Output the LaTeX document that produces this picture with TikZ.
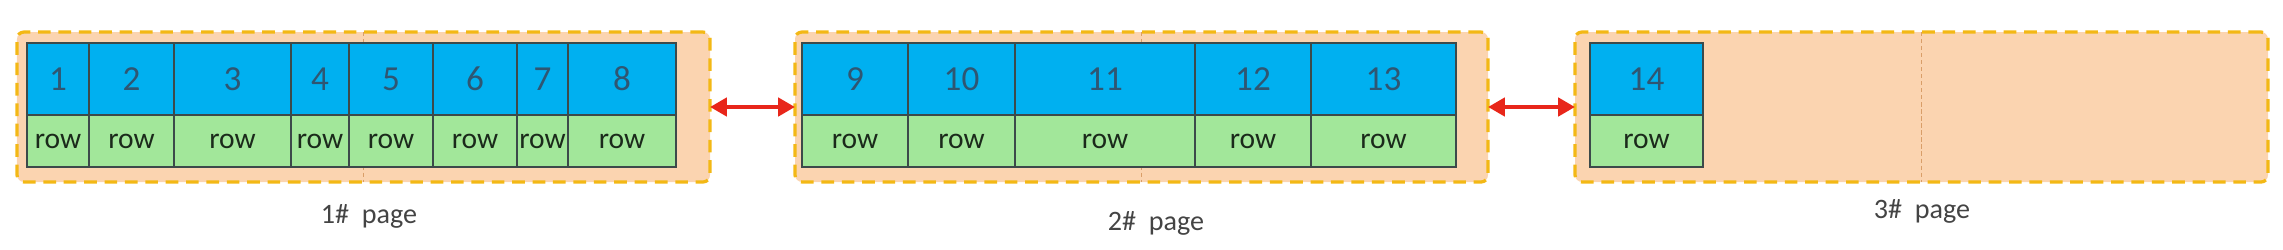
\documentclass[tikz,border=0pt]{standalone}
\usepackage{fontspec}
\setmainfont{Carlito}
\usetikzlibrary{positioning,arrows.meta}

\definecolor{pagefill}{HTML}{FBD4B0}
\definecolor{pageline}{HTML}{F3B815}
\definecolor{midbrown}{HTML}{D99E68}
\definecolor{keyblue}{HTML}{00B0F0}
\definecolor{rowgreen}{HTML}{A2E79A}
\definecolor{cellline}{HTML}{3C4A4A}
\definecolor{keytext}{HTML}{2F5672}
\definecolor{rowtext}{HTML}{1B2A1B}
\definecolor{labelgray}{HTML}{444444}
\definecolor{linkred}{HTML}{E8261A}

\tikzset{
    pagebox/.style={draw=pageline, fill=pagefill, line width=2.3pt, dash pattern=on 9pt off 5.5pt,
        rounded corners=5pt, minimum width=17.325cm, minimum height=3.75cm, inner sep=0pt, outer sep=0pt},
    midline/.style={draw=midbrown, line width=0.7pt, dash pattern=on 3pt off 2pt},
    keycell/.style={draw=cellline, fill=keyblue, text=keytext, line width=0.8pt, font=\fontsize{25}{25}\selectfont,
        minimum width=#1, minimum height=1.8cm, inner sep=0pt, outer sep=0pt},
    rowcell/.style={draw=cellline, fill=rowgreen, text=rowtext, line width=0.8pt, font=\fontsize{21}{21}\selectfont,
        minimum width=#1, minimum height=1.3cm, inner sep=0pt, outer sep=0pt},
    link/.style={<->, >={Triangle[length=0.42cm, width=0.45cm]}, line width=3.5pt, linkred},
    pagelabel/.style={text=labelgray, font=\fontsize{20}{20}\selectfont}
}

\begin{document}
\begin{tikzpicture}
    \useasboundingbox (0,0) rectangle (57.075,6.225);

    % Pages
    \node[pagebox] (p1) at (9.0875,3.55) {};
    \node[pagebox, right=2.125cm of p1] (p2) {};
    \node[pagebox, right=2.175cm of p2] (p3) {};

    % Middle lines
    \draw[midline] (p1.north) -- (p1.south);
    \draw[midline] (p2.north) -- (p2.south);
    \draw[midline] (p3.north) -- (p3.south);

    % Page 1
    \node[keycell=1.55cm, anchor=north west] (k1) at (0.675,5.15) {1};
    \node[keycell=2.125cm, right=0pt of k1] (k2) {2};
    \node[keycell=2.925cm, right=0pt of k2] (k3) {3};
    \node[keycell=1.45cm, right=0pt of k3] (k4) {4};
    \node[keycell=2.1cm, right=0pt of k4] (k5) {5};
    \node[keycell=2.1cm, right=0pt of k5] (k6) {6};
    \node[keycell=1.275cm, right=0pt of k6] (k7) {7};
    \node[keycell=2.7cm, right=0pt of k7] (k8) {8};
    \node[rowcell=1.55cm, below=0pt of k1] (r1) {row};
    \node[rowcell=2.125cm, below=0pt of k2] (r2) {row};
    \node[rowcell=2.925cm, below=0pt of k3] (r3) {row};
    \node[rowcell=1.45cm, below=0pt of k4] (r4) {row};
    \node[rowcell=2.1cm, below=0pt of k5] (r5) {row};
    \node[rowcell=2.1cm, below=0pt of k6] (r6) {row};
    \node[rowcell=1.275cm, below=0pt of k7] (r7) {row};
    \node[rowcell=2.7cm, below=0pt of k8] (r8) {row};

    % Page 2
    \node[keycell=2.65cm, anchor=north west] (k9) at (20.05,5.15) {9};
    \node[keycell=2.675cm, right=0pt of k9] (k10) {10};
    \node[keycell=4.5cm, right=0pt of k10] (k11) {11};
    \node[keycell=2.9cm, right=0pt of k11] (k12) {12};
    \node[keycell=3.625cm, right=0pt of k12] (k13) {13};
    \node[rowcell=2.65cm, below=0pt of k9] (r9) {row};
    \node[rowcell=2.675cm, below=0pt of k10] (r10) {row};
    \node[rowcell=4.5cm, below=0pt of k11] (r11) {row};
    \node[rowcell=2.9cm, below=0pt of k12] (r12) {row};
    \node[rowcell=3.625cm, below=0pt of k13] (r13) {row};

    % Page 3
    \node[keycell=2.825cm, anchor=north west] (k14) at (39.75,5.15) {14};
    \node[rowcell=2.825cm, below=0pt of k14] (r14) {row};

    % Links
    \draw[link] (p1.east) -- (p2.west);
    \draw[link] (p2.east) -- (p3.west);

    % Labels
    \node[pagelabel] (l1) at (9.225,0.825) {1\#\ \ page};
    \node[pagelabel] (l2) at (28.9,0.65) {2\#\ \ page};
    \node[pagelabel] (l3) at (48.05,0.94) {3\#\ \ page};
\end{tikzpicture}
\end{document}
